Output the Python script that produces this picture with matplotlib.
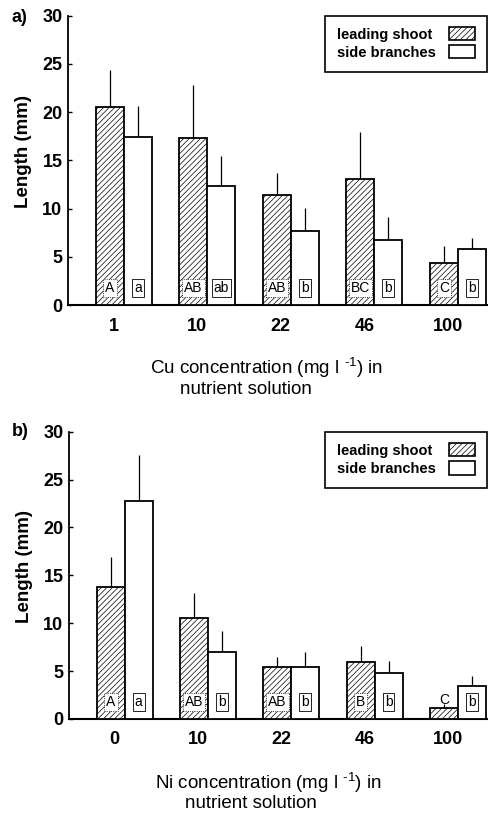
import numpy as np
import matplotlib
matplotlib.use("Agg")
from matplotlib import pyplot as plt
from matplotlib.patches import Patch

plt.rcParams['font.family'] = ['Liberation Sans', 'DejaVu Sans']
plt.rcParams['mathtext.fontset'] = 'custom'
plt.rcParams['mathtext.rm'] = 'Liberation Sans'
plt.rcParams['hatch.linewidth'] = 0.5

# concentrations (tick labels) for the two metals
cu_conc = ['1', '10', '22', '46', '100']
ni_conc = ['0', '10', '22', '46', '100']

# Cu: mean length (mm) and upper SD
cu_lead = [20.5, 17.35, 11.4, 13.1, 4.4]
cu_lead_sd = [3.9, 5.45, 2.25, 4.8, 1.7]
cu_side = [17.4, 12.3, 7.7, 6.8, 5.85]
cu_side_sd = [3.2, 3.2, 2.4, 2.3, 1.15]
cu_lead_grp = ['A', 'AB', 'AB', 'BC', 'C']
cu_side_grp = ['a', 'ab', 'b', 'b', 'b']

# Ni: mean length (mm) and upper SD
ni_lead = [13.75, 10.55, 5.45, 5.9, 1.1]
ni_lead_sd = [3.15, 2.55, 1.0, 1.7, 0.5]
ni_side = [22.8, 7.0, 5.4, 4.75, 3.4]
ni_side_sd = [4.8, 2.2, 1.6, 1.25, 1.1]
ni_lead_grp = ['A', 'AB', 'AB', 'B', 'C']
ni_side_grp = ['a', 'b', 'b', 'b', 'b']

W = 0.335
HATCH = '//////'


def panel(ax, ticks, lead, lead_sd, side, side_sd, lead_grp, side_grp):
    x = np.arange(len(ticks))
    ax.bar(x - W / 2, lead, W, facecolor='white', edgecolor='k', hatch=HATCH, lw=1.3, zorder=3)
    ax.bar(x + W / 2, side, W, facecolor='white', edgecolor='k', lw=1.3, zorder=3)
    ax.errorbar(x - W / 2, lead, yerr=[np.zeros(len(x)), lead_sd], fmt='none',
                ecolor='k', elinewidth=0.9, capsize=0, zorder=2)
    ax.errorbar(x + W / 2, side, yerr=[np.zeros(len(x)), side_sd], fmt='none',
                ecolor='k', elinewidth=0.9, capsize=0, zorder=2)
    for i in range(len(x)):
        if lead[i] > 2.5:
            ax.text(x[i] - W / 2, 1.75, lead_grp[i], ha='center', va='center', fontsize=10,
                    zorder=5, bbox=dict(boxstyle='square,pad=0.15', fc='white', ec='k',
                                        lw=0.6, ls=':'))
        else:
            ax.text(x[i] - W / 2, 1.95, lead_grp[i], ha='center', va='center', fontsize=10,
                    zorder=5)
        ax.text(x[i] + W / 2, 1.75, side_grp[i], ha='center', va='center', fontsize=10,
                zorder=5, bbox=dict(boxstyle='square,pad=0.15', fc='white', ec='k', lw=0.6))
    ax.set_xlim(-0.67, 4.35)
    ax.set_ylim(0, 30)
    ax.set_yticks([0, 5, 10, 15, 20, 25, 30])
    ax.set_xticks(x - 0.12)
    ax.set_xticklabels(ticks)
    for s in ['top', 'right']:
        ax.spines[s].set_visible(False)
    ax.spines['left'].set_linewidth(1.3)
    ax.spines['bottom'].set_linewidth(1.5)
    ax.tick_params(axis='y', direction='in', length=3, width=1, pad=4, labelsize=13)
    ax.tick_params(axis='x', length=0, pad=9, labelsize=13)
    for t in ax.get_yticklabels() + ax.get_xticklabels():
        t.set_fontweight('bold')
    ax.set_ylabel('Length (mm)', fontsize=13.5, fontweight='bold')
    ax.yaxis.set_label_coords(-0.085, 0.53)
    handles = [Patch(facecolor='white', edgecolor='k', hatch=HATCH, lw=1.2),
               Patch(facecolor='white', edgecolor='k', lw=1.2)]
    leg = ax.legend(handles, ['leading shoot ', 'side branches'], loc='upper right',
                    bbox_to_anchor=(1.0, 1.0), borderaxespad=0, markerfirst=False,
                    fancybox=False, framealpha=1, edgecolor='k', handlelength=1.8,
                    handleheight=1.0, handletextpad=0.9, borderpad=0.8, labelspacing=0.25,
                    prop=dict(size=10.5, weight='bold'))
    leg.get_frame().set_linewidth(1.2)


fig = plt.figure(figsize=(4.89, 8.16), dpi=100)
ax1 = fig.add_axes([0.139, 0.626, 0.857, 0.355])
ax2 = fig.add_axes([0.141, 0.119, 0.855, 0.352])

panel(ax1, cu_conc, cu_lead, cu_lead_sd, cu_side, cu_side_sd, cu_lead_grp, cu_side_grp)
panel(ax2, ni_conc, ni_lead, ni_lead_sd, ni_side, ni_side_sd, ni_lead_grp, ni_side_grp)

fig.text(12 / 489, 1 - 17 / 816, 'a)', fontsize=13, fontweight='bold', va='center')
fig.text(12 / 489, 1 - 431 / 816, 'b)', fontsize=13, fontweight='bold', va='center')

sup = ' $^{\\text{-1}}$'
fig.text(150 / 489, 1 - 368 / 816, 'Cu concentration (mg l' + sup + ') in', fontsize=13.5,
         va='center', ha='left')
fig.text(180 / 489, 1 - 389 / 816, 'nutrient solution', fontsize=13.5, va='center', ha='left')
fig.text(155 / 489, 1 - 783 / 816, 'Ni concentration (mg l' + sup + ') in', fontsize=13.5,
         va='center', ha='left')
fig.text(185 / 489, 1 - 804 / 816, 'nutrient solution', fontsize=13.5, va='center', ha='left')

fig.savefig('out.png', dpi=100)
